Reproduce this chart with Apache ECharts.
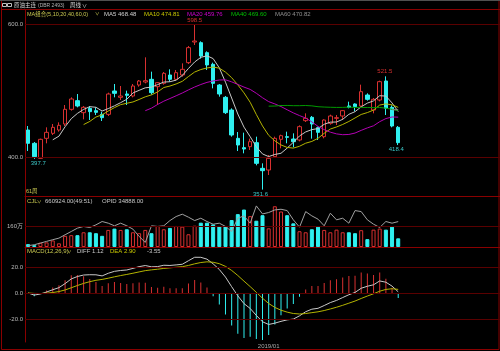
<!DOCTYPE html>
<html>
<head>
<meta charset="utf-8">
<script src="https://cdn.jsdelivr.net/npm/echarts@6.0.0/dist/echarts.min.js"></script>
<style>
html, body { margin: 0; padding: 0; background: #000; }
#main { width: 500px; height: 351px; }
</style>
</head>
<body>
<div id="main"></div>
<script>
// weekly bars, 2018/04 .. 2019/05
var weeks = [
	'2018/04/06','2018/04/13','2018/04/20','2018/04/27','2018/05/04','2018/05/11','2018/05/18','2018/05/25',
	'2018/06/01','2018/06/08','2018/06/15','2018/06/22','2018/06/29','2018/07/06','2018/07/13','2018/07/20',
	'2018/07/27','2018/08/03','2018/08/10','2018/08/17','2018/08/24','2018/08/31','2018/09/07','2018/09/14',
	'2018/09/21','2018/09/28','2018/10/05','2018/10/12','2018/10/19','2018/10/26','2018/11/02','2018/11/09',
	'2018/11/16','2018/11/23','2018/11/30','2018/12/07','2018/12/14','2018/12/21','2018/12/28','2019/01/04',
	'2019/01/11','2019/01/18','2019/01/25','2019/02/01','2019/02/08','2019/02/15','2019/02/22','2019/03/01',
	'2019/03/08','2019/03/15','2019/03/22','2019/03/29','2019/04/05','2019/04/12','2019/04/19','2019/04/26',
	'2019/05/03','2019/05/10','2019/05/17','2019/05/24','2019/05/31'
];

// [open, close, low, high]
var kline = [
	[441, 421, 409.5, 447], [421, 401, 397.7, 423], [398.5, 427, 398, 428], [428.5, 437.5, 421, 445],
	[436, 445, 433.5, 450], [441, 448, 438.5, 452.5], [450, 472, 447, 478.5], [472, 487.5, 470, 490],
	[485, 477, 475, 495], [467, 475, 457, 477], [473.5, 468.5, 456, 477], [470, 467.5, 463.5, 475],
	[464.5, 459.5, 454.5, 468.5], [464.5, 495, 462, 497], [499.5, 496, 490, 510], [490, 492, 486, 507],
	[495, 493, 478.5, 500], [492, 507, 490, 510], [508.5, 514.5, 506, 516], [513, 515, 511, 550],
	[517, 497, 494, 528.5], [506, 512, 478.5, 513], [511, 526, 509, 528], [523.5, 517, 513.5, 532],
	[517, 527, 515, 531], [523.5, 532, 521, 541], [542, 564.5, 540, 567], [573, 574.5, 568.5, 598.5],
	[572, 552, 548, 574], [557, 538.5, 531, 559], [539.5, 511, 503.5, 542], [508.5, 495, 491, 510],
	[490, 467, 465, 492], [471, 433.5, 431, 473.5], [428.5, 418.5, 409.5, 438], [414.5, 412.5, 406, 437],
	[416, 423.5, 411, 428], [422, 391, 388, 431], [383.5, 380, 351.6, 391], [381, 398.5, 373.5, 403.5],
	[401, 428.5, 399, 431], [427, 432.5, 413.5, 434], [431, 430, 421, 438.5], [427.5, 423.5, 415, 436],
	[426, 446, 424, 448], [455, 458.5, 453, 466], [460, 450, 428, 462], [444.5, 437.5, 426, 446],
	[431, 456, 428.5, 457], [451, 462, 449, 464], [458.5, 459.5, 448.5, 463.5], [462, 470, 456, 471],
	[477, 475, 473.5, 483.5], [480, 476, 469, 481], [477, 498.5, 475, 509], [493.5, 487, 485, 496],
	[471, 487, 466, 489], [486, 513.5, 484, 515], [514.5, 473.5, 463.5, 521.5], [475, 447, 445, 478],
	[445, 422, 418.4, 447]
];

// volume, 万手
var volWan = [
	22, 14, 32, 35, 50, 28, 85, 90, 90, 112, 112, 105, 85, 130, 140, 130,
	135, 112, 105, 130, 105, 160, 135, 145, 160, 155, 97, 162, 185, 185, 172, 160,
	160, 205, 250, 285, 235, 200, 242, 142, 310, 270, 242, 180, 120, 112, 135, 155,
	130, 112, 132, 112, 112, 105, 128, 60, 132, 140, 132, 155, 66.09
];

var opid = [
	1800, 3100, 5400, 7700, 10000, 12200, 16800, 21300, 25900, 28200, 26800, 30400, 35000, 32700, 29100, 32700,
	29100, 24500, 14500, 6300, 29100, 28200, 29100, 36300, 41800, 45000, 40900, 36300, 39500, 35000, 31300, 32700,
	28200, 21300, 39500, 42700, 32700, 56400, 45400, 47300, 50900, 51800, 50000, 37300, 27200, 48600, 42700, 38200,
	29100, 46400, 37300, 39500, 32700, 50000, 48600, 37300, 31300, 26800, 35000, 32700, 34888
];

var priceTicks = [600, 400];
var volTicks = [160];
var macdTicks = [20, 0, -20];

var RED = '#d83030';
var CYAN = '#2ff0f0';
var GRID_LINE = '#5a0000';
var FRAME = '#8a0000';
var FONT = 'Liberation Sans, Noto Sans CJK SC, sans-serif';

// pad the category axis with empty slots on the right
var cats = weeks.concat(['', '', '', '', '', '', '', '', '', '', '', '', '', '', '', '']);

var closes = kline.map(function (d) { return d[1]; });

function calcMA(n) {
	var out = [];
	for (var i = 0; i < closes.length; i++) {
		if (i < n - 1) { out.push('-'); continue; }
		var s = 0;
		for (var j = 0; j < n; j++) s += closes[i - j];
		out.push(+(s / n).toFixed(2));
	}
	return out;
}

// MACD(12,26,9)
var diff = [], dea = [], macd = [];
var e12 = closes[0], e26 = closes[0], d9 = 0;
for (var i = 0; i < closes.length; i++) {
	if (i > 0) {
		e12 = (2 * closes[i] + 11 * e12) / 13;
		e26 = (2 * closes[i] + 25 * e26) / 27;
	}
	var df = e12 - e26;
	d9 = (2 * df + 8 * d9) / 10;
	diff.push(+df.toFixed(2));
	dea.push(+d9.toFixed(2));
	var m = 2 * (df - d9);
	macd.push({ value: +m.toFixed(2), itemStyle: { color: m >= 0 ? RED : CYAN } });
}

var volData = volWan.map(function (v, i) {
	var up = kline[i][1] >= kline[i][0];
	return {
		value: v,
		itemStyle: { color: up ? '#000' : CYAN, borderColor: up ? RED : CYAN, borderWidth: 1 }
	};
});

function tickLines(ticks, fmt) {
	return ticks.map(function (t) {
		return { yAxis: t, label: { formatter: fmt(t) } };
	});
}

function legendText(x, y, text, color, size) {
	return {
		type: 'text', x: x, y: y, silent: true,
		style: { text: text, fill: color, font: (size || 6) + 'px ' + FONT, verticalAlign: 'middle', textVerticalAlign: 'middle' }
	};
}

function peakLabel(idx, val, pos, color, dx) {
	return {
		coord: [weeks[idx], val], value: val.toFixed(1),
		label: { show: true, position: pos, distance: 1, offset: [dx, 0], color: color, fontSize: 6, fontFamily: FONT }
	};
}

var dom = document.getElementById('main');
var myChart = echarts.init(dom);

var xBase = {
	type: 'category', data: cats, boundaryGap: true,
	axisLine: { show: true, lineStyle: { color: FRAME, width: 1 } },
	axisTick: { show: false }, axisLabel: { show: false }, splitLine: { show: false }
};
var yBase = {
	scale: true,
	axisLine: { show: true, lineStyle: { color: FRAME, width: 1 } },
	axisTick: { show: false }, axisLabel: { show: false }, splitLine: { show: false }
};
var markBase = {
	silent: true, symbol: 'none', animation: false,
	lineStyle: { color: GRID_LINE, type: 'solid', width: 1 },
	label: { position: 'start', distance: 2, color: '#b8b8b8', fontSize: 6, fontFamily: FONT }
};

option = {
	backgroundColor: '#000',
	animation: false,
	textStyle: { fontFamily: FONT },
	grid: [
		{ left: 25, right: 0, top: 10, height: 186 },
		{ left: 25, right: 0, top: 196, height: 51 },
		{ left: 25, right: 0, top: 247, height: 95 }
	],
	xAxis: [
		Object.assign({}, xBase, { gridIndex: 0 }),
		Object.assign({}, xBase, { gridIndex: 1 }),
		Object.assign({}, xBase, {
			gridIndex: 2,
			axisLabel: {
				show: true, color: '#a8a8a8', fontSize: 6, fontFamily: FONT, margin: 1,
				interval: function (idx) { return idx === 39; },
				formatter: function (v) { return v.slice(0, 7); }
			}
		})
	],
	yAxis: [
		Object.assign({}, yBase, { gridIndex: 0, min: 342, max: 621 }),
		Object.assign({}, yBase, { gridIndex: 1, min: 0, max: 388 }),
		Object.assign({}, yBase, { gridIndex: 1, min: 0, max: 70000, axisLine: { show: false } }),
		Object.assign({}, yBase, { gridIndex: 2, min: -37.7, max: 35.4 })
	],
	series: [
		{
			name: 'K', type: 'candlestick', xAxisIndex: 0, yAxisIndex: 0,
			data: kline, barWidth: 4,
			itemStyle: { color: '#000', color0: CYAN, borderColor: RED, borderColor0: CYAN, borderWidth: 1 },
			markLine: Object.assign({}, markBase, {
				data: tickLines(priceTicks, function (t) { return t.toFixed(1); })
			}),
			markPoint: {
				symbol: 'circle', symbolSize: 1, silent: true, itemStyle: { color: 'transparent' },
				data: [
					peakLabel(27, 598.5, 'top', RED, 0),
					peakLabel(58, 521.5, 'top', RED, -1),
					peakLabel(1, 397.7, 'bottom', '#3cc8c8', 4),
					peakLabel(38, 351.6, 'bottom', '#3cc8c8', -2),
					peakLabel(60, 418.4, 'bottom', '#3cc8c8', -2)
				]
			},
			z: 3
		},
		{ name: 'MA5', type: 'line', data: calcMA(5), symbol: 'none', lineStyle: { width: 1, color: '#c8c8c8' }, z: 4 },
		{ name: 'MA10', type: 'line', data: calcMA(10), symbol: 'none', lineStyle: { width: 1, color: '#b4b400' }, z: 4 },
		{ name: 'MA20', type: 'line', data: calcMA(20), symbol: 'none', lineStyle: { width: 1, color: '#b400b4' }, z: 4 },
		{ name: 'MA40', type: 'line', data: calcMA(40), symbol: 'none', lineStyle: { width: 1, color: '#009a00' }, z: 4 },
		{ name: 'MA60', type: 'line', data: calcMA(60), symbol: 'none', lineStyle: { width: 1, color: '#8c8c8c' }, z: 4 },
		{
			name: 'CJL', type: 'bar', xAxisIndex: 1, yAxisIndex: 1, data: volData, barWidth: 4,
			markLine: Object.assign({}, markBase, {
				data: tickLines(volTicks, function (t) { return t + '万'; })
			})
		},
		{
			name: 'OPID', type: 'line', xAxisIndex: 1, yAxisIndex: 2, data: opid, symbol: 'none',
			lineStyle: { width: 1, color: '#a0a0a0' }, z: 4
		},
		{
			name: 'MACD', type: 'bar', xAxisIndex: 2, yAxisIndex: 3, data: macd, barWidth: 1,
			markLine: Object.assign({}, markBase, {
				data: tickLines(macdTicks, function (t) { return t.toFixed(1); })
			})
		},
		{ name: 'DIFF', type: 'line', xAxisIndex: 2, yAxisIndex: 3, data: diff, symbol: 'none', lineStyle: { width: 1, color: '#c8c8c8' }, z: 4 },
		{ name: 'DEA', type: 'line', xAxisIndex: 2, yAxisIndex: 3, data: dea, symbol: 'none', lineStyle: { width: 1, color: '#b4b400' }, z: 4 }
	],
	graphic: [
		{ type: 'rect', silent: true, shape: { x: 1.5, y: 0.5, width: 497.5, height: 349 }, style: { fill: null, stroke: FRAME, lineWidth: 1 } },
		{ type: 'line', silent: true, shape: { x1: 0, y1: 0.5, x2: 500, y2: 0.5 }, style: { stroke: '#505050', lineWidth: 1 } },
		{ type: 'line', silent: true, shape: { x1: 1.5, y1: 9.5, x2: 500, y2: 9.5 }, style: { stroke: FRAME, lineWidth: 1 } },
		{ type: 'rect', silent: true, shape: { x: 2.5, y: 3.5, width: 4, height: 3 }, style: { fill: null, stroke: '#c0c0c0', lineWidth: 1 } },
		{ type: 'rect', silent: true, shape: { x: 7.5, y: 3.5, width: 4, height: 3 }, style: { fill: null, stroke: '#c0c0c0', lineWidth: 1 } },
		legendText(14, 5.5, '原油主连', '#d8d8d8', 5.5),
		legendText(38, 5.5, '(DBR 2493)', '#b0b0b0', 5),
		legendText(70, 5.5, '周线', '#d8d8d8', 5.5),
		legendText(82, 5.5, '∨', '#d8d8d8', 5),

		legendText(27, 14, 'MA组合(5,10,20,40,60,0)', '#c8c850', 5.5),
		legendText(95, 14, '∨', '#c8c850', 4.5),
		legendText(104, 14, 'MA5 468.48', '#d0d0d0'),
		legendText(144, 14, 'MA10 474.81', '#c8c800'),
		legendText(187, 14, 'MA20 459.76', '#d000d0'),
		legendText(231, 14, 'MA40 469.60', '#00c000'),
		legendText(275, 14, 'MA60 470.82', '#909090'),
		legendText(26, 191.5, '61周', '#c8c850', 5.5),

		legendText(27, 201.7, 'CJL', '#c8c850'),
		legendText(37, 201.7, '∨', '#c8c850', 4.5),
		legendText(45, 201.7, '660924.00(49:51)', '#c8c8c8'),
		legendText(102, 201.7, 'OPID 34888.00', '#c8c8c8'),

		legendText(27, 251.7, 'MACD(12,26,9)', '#c8c850'),
		legendText(67, 251.7, '∨', '#c8c850', 4.5),
		legendText(77, 251.7, 'DIFF 1.12', '#c8c8c8'),
		legendText(110, 251.7, 'DEA 2.90', '#c8c800'),
		legendText(147, 251.7, '-3.55', '#c8c8c8')
	]
};

if (option && typeof option === "object") {
	myChart.setOption(option, true);
}
</script>
</body>
</html>
